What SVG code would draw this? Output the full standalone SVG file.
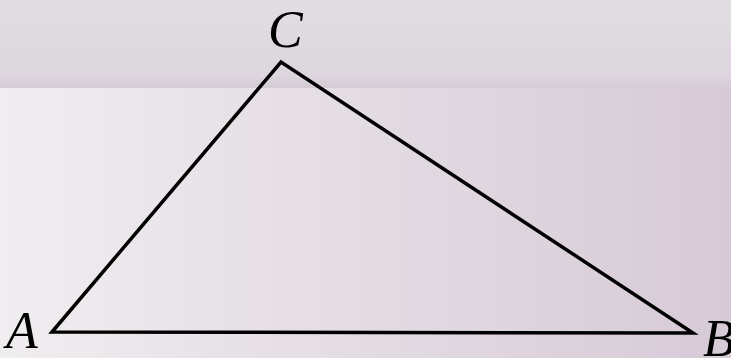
<svg xmlns="http://www.w3.org/2000/svg" width="731" height="358" viewBox="0 0 731 358">
<defs>
<linearGradient id="top" x1="0" y1="0" x2="0" y2="1">
<stop offset="0" stop-color="#e2dce3"/>
<stop offset="0.85" stop-color="#ddd6de"/>
<stop offset="1" stop-color="#d4cbd5"/>
</linearGradient>
<linearGradient id="bg" x1="0" y1="0" x2="1" y2="0">
<stop offset="0" stop-color="#f0edf0"/>
<stop offset="1" stop-color="#d6cad6"/>
</linearGradient>
</defs>
<style>
.lbl{font-family:"Liberation Serif",serif;font-style:italic;font-size:52px;fill:#000}
.edge{fill:none;stroke:#000;stroke-width:3.5;stroke-linejoin:miter}
</style>
<rect x="0" y="0" width="731" height="358" fill="url(#bg)"/>
<rect x="0" y="0" width="731" height="88" fill="url(#top)"/>
<g id="connectors">
<polygon class="edge" points="52,332 281,62 693,333"/>
</g>
<g id="nodeC"><text class="lbl" x="268" y="47">C</text></g>
<g id="nodeA"><text class="lbl" x="6" y="348">A</text></g>
<g id="nodeB"><text class="lbl" x="703" y="356">B</text></g>
</svg>
